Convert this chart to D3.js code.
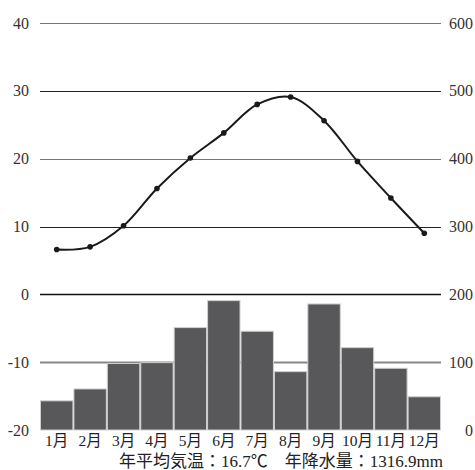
<!DOCTYPE html>
<html><head><meta charset="utf-8">
<script src="https://cdn.jsdelivr.net/npm/d3@7"></script>
<style>body{margin:0;background:#fff}svg{display:block}
svg text{font-family:"Liberation Serif","Times New Roman","Noto Sans CJK JP",serif}</style>
</head><body>
<svg id="c" width="475" height="470"></svg>
<script>
const months = ["1月","2月","3月","4月","5月","6月","7月","8月","9月","10月","11月","12月"];
const temperature = [6.6, 7.0, 10.1, 15.6, 20.1, 23.8, 28.0, 29.1, 25.6, 19.6, 14.2, 9.0];
const precipitation = [43, 60.5, 98, 99.3, 151, 190.7, 145.6, 86, 185.8, 121.4, 91, 49];
const tempTicks = [40, 30, 20, 10, 0, -10, -20];
const precipTicks = [600, 500, 400, 300, 200, 100, 0];
const caption = "年平均気温：16.7℃　年降水量：1316.9mm";

(function () {
const svg = d3.select("#c");
const mLeft = 40, mRight = 441, mTop = 23, mBottom = 430;
const x = d3.scaleBand().domain(months).range([mLeft, mRight]).padding(0);
const yT = d3.scaleLinear().domain([-20, 40]).range([mBottom, mTop]);
const yP = d3.scaleLinear().domain([0, 600]).range([mBottom, mTop]);

// gridlines
const gridColor = {40:"#777",30:"#222",20:"#777",10:"#222",0:"#111",[-10]:"#888"};
const gridWidth = {40:1.2,30:1,20:1.2,10:1,0:1.3,[-10]:1.8};
svg.append("g").selectAll("line").data(tempTicks.filter(d => d > -20)).join("line")
  .attr("x1", mLeft).attr("x2", mRight)
  .attr("y1", d => Math.round(yT(d)) + 0.5).attr("y2", d => Math.round(yT(d)) + 0.5)
  .attr("stroke", d => gridColor[d]).attr("stroke-width", d => gridWidth[d]);

// bars
svg.append("g").selectAll("rect").data(precipitation).join("rect")
  .attr("x", (d, i) => x(months[i]) + 0.5)
  .attr("width", x.bandwidth() - 1)
  .attr("y", d => yP(d))
  .attr("height", d => yP(0) - yP(d))
  .attr("fill", "#58585a").attr("stroke", "#cfcfcf").attr("stroke-width", 1);

// left axis labels
svg.append("g").selectAll("text").data(tempTicks).join("text")
  .attr("x", 29).attr("y", d => yT(d)).attr("dy", "0.35em")
  .attr("text-anchor", "end").attr("font-size", 16).attr("fill", "#333")
  .text(d => d);

// right axis labels
svg.append("g").selectAll("text").data(precipTicks).join("text")
  .attr("x", 473).attr("y", d => yP(d)).attr("dy", "0.35em")
  .attr("text-anchor", "end").attr("font-size", 16).attr("fill", "#333")
  .text(d => d);

// month labels
svg.append("g").selectAll("text").data(months).join("text")
  .attr("x", d => x(d) + x.bandwidth() / 2).attr("y", 446)
  .attr("text-anchor", "middle").attr("font-size", 15.5).attr("fill", "#222")
  .text(d => d);

// temperature line
const line = d3.line()
  .x((d, i) => x(months[i]) + x.bandwidth() / 2)
  .y(d => yT(d))
  .curve(d3.curveCatmullRom.alpha(0.5));
svg.append("path").datum(temperature).attr("d", line)
  .attr("fill", "none").attr("stroke", "#1a1a1a").attr("stroke-width", 2);
svg.append("g").selectAll("circle").data(temperature).join("circle")
  .attr("cx", (d, i) => x(months[i]) + x.bandwidth() / 2)
  .attr("cy", d => yT(d)).attr("r", 2.8).attr("fill", "#1a1a1a");

// caption
svg.append("text").attr("x", 443).attr("y", 467).attr("text-anchor", "end")
  .attr("font-size", 17).attr("fill", "#222")
  .text(caption);
})();
</script>
</body></html>
